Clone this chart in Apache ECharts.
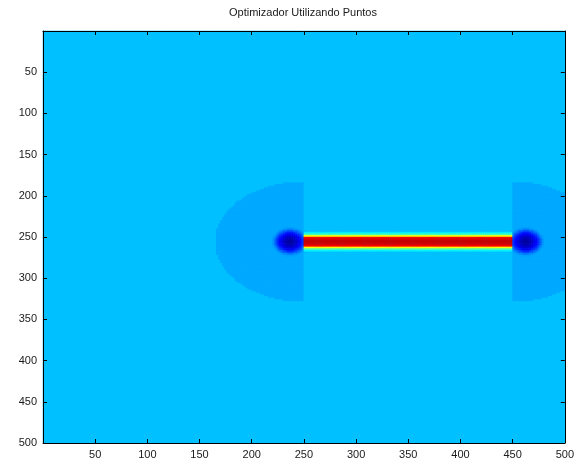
<!DOCTYPE html>
<html>
<head>
<meta charset="utf-8">
<script src="https://cdn.jsdelivr.net/npm/echarts@6/dist/echarts.min.js"></script>
<style>
  html, body { margin: 0; padding: 0; background: #ffffff; }
  #chart { width: 577px; height: 468px; }
</style>
</head>
<body>
<div id="chart"></div>
<script>
// Field extent (in cells of the 500 x 500 map) and axis tick labels
const fieldSize = 500;
const cellStep = 2;
const xTickValues = [50, 100, 150, 200, 250, 300, 350, 400, 450, 500];
const yTickValues = [50, 100, 150, 200, 250, 300, 350, 400, 450, 500];

// Base level of the map
const backgroundLevel = 0.3125;

// Half-disc plateaus on the outer side of each end point
const plateauCenterX = [250, 450];
const plateauCenterY = [256, 256];
const plateauSide = [-1, 1];
const plateauRadiusX = [85, 85];
const plateauRadiusY = [73, 73];
const plateauLevel = [0.29, 0.29];

// The two points (minima)
const pointX = [237, 463];
const pointY = [256, 256];
// level by distance (cells) from each point
const pointProfile = [0.03, 0.03, 0.035, 0.04, 0.05, 0.06, 0.07, 0.085, 0.1, 0.115, 0.13,
  0.15, 0.17, 0.195, 0.22, 0.245, 0.265, 0.28, 0.29, 0.3, 0.31];

// Ridge along the segment joining the points
const ridgeStartX = 251;
const ridgeEndX = 450;
const ridgeY = 256;
// level by distance (cells) from the ridge axis
const ridgeProfile = [0.93, 0.93, 0.92, 0.91, 0.9, 0.88, 0.76, 0.62, 0.52, 0.45, 0.4, 0.36, 0.33];

// Jet colour map stops
const jetColors = ['#000080', '#0000ff', '#0080ff', '#00ffff', '#80ff80',
  '#ffff00', '#ff8000', '#ff0000', '#800000'];

function levelAt(x, y) {
  let v = backgroundLevel;
  for (let k = 0; k < plateauCenterX.length; k++) {
    const dx = x - plateauCenterX[k];
    const dy = y - plateauCenterY[k];
    if (dx * plateauSide[k] >= 0 &&
        (dx * dx) / (plateauRadiusX[k] * plateauRadiusX[k]) +
        (dy * dy) / (plateauRadiusY[k] * plateauRadiusY[k]) <= 1) {
      v = plateauLevel[k];
    }
  }
  for (let k = 0; k < pointX.length; k++) {
    const r = Math.round(Math.hypot(x - pointX[k], y - pointY[k]));
    if (r < pointProfile.length) v = Math.min(v, pointProfile[r]);
  }
  if (x >= ridgeStartX && x <= ridgeEndX) {
    const d = Math.round(Math.abs(y - ridgeY));
    if (d < ridgeProfile.length) v = Math.max(v, ridgeProfile[d]);
  }
  return v;
}

const nCells = fieldSize / cellStep;
const cellCenters = [];
for (let i = 0; i < nCells; i++) cellCenters.push(i * cellStep + cellStep / 2);

const cells = [];
for (let i = 0; i < nCells; i++) {
  for (let j = 0; j < nCells; j++) {
    cells.push([i, j, levelAt(cellCenters[i], cellCenters[j])]);
  }
}

const fontFamily = '"Liberation Sans", Arial, sans-serif';
const tickStyle = { show: true, inside: true, length: 4, lineStyle: { color: '#000', width: 1 } };
const lineStyle = { show: true, onZero: false, lineStyle: { color: '#000', width: 1 } };
const labelStyle = {
  color: '#1a1a1a', fontSize: 11, fontFamily: fontFamily,
  formatter: v => (v === 0 ? '' : String(v))
};

const chart = echarts.init(document.getElementById('chart'), null, { renderer: 'canvas' });
chart.setOption({
  animation: false,
  backgroundColor: '#ffffff',
  title: {
    text: 'Optimizador Utilizando Puntos',
    left: 224, top: 2,
    textStyle: { fontSize: 11, fontWeight: 'normal', color: '#1a1a1a', fontFamily: fontFamily }
  },
  grid: {
    left: 43, top: 31, width: 522, height: 412, containLabel: false,
    show: true, borderWidth: 0, backgroundColor: '#00bfff'
  },
  visualMap: {
    type: 'continuous', show: false, min: 0, max: 1, dimension: 2, seriesIndex: 0,
    inRange: { color: jetColors }
  },
  xAxis: [
    { type: 'category', data: cellCenters, show: false, boundaryGap: true },
    { type: 'value', min: 0, max: fieldSize, interval: 50, position: 'bottom', z: 10,
      axisLine: lineStyle, axisTick: tickStyle,
      axisLabel: Object.assign({ margin: 6 }, labelStyle), splitLine: { show: false } },
    { type: 'value', min: 0, max: fieldSize, interval: 50, position: 'top', z: 10,
      axisLine: lineStyle, axisTick: tickStyle, axisLabel: { show: false }, splitLine: { show: false } }
  ],
  yAxis: [
    { type: 'category', data: cellCenters, show: false, inverse: true, boundaryGap: true },
    { type: 'value', min: 0, max: fieldSize, interval: 50, position: 'left', inverse: true, z: 10,
      axisLine: lineStyle, axisTick: tickStyle,
      axisLabel: Object.assign({ margin: 6 }, labelStyle), splitLine: { show: false } },
    { type: 'value', min: 0, max: fieldSize, interval: 50, position: 'right', inverse: true, z: 10,
      axisLine: lineStyle, axisTick: tickStyle, axisLabel: { show: false }, splitLine: { show: false } }
  ],
  series: [{
    type: 'heatmap',
    xAxisIndex: 0,
    yAxisIndex: 0,
    data: cells,
    progressive: 0,
    emphasis: { disabled: true },
    itemStyle: { borderWidth: 0 }
  }]
});
</script>
</body>
</html>
